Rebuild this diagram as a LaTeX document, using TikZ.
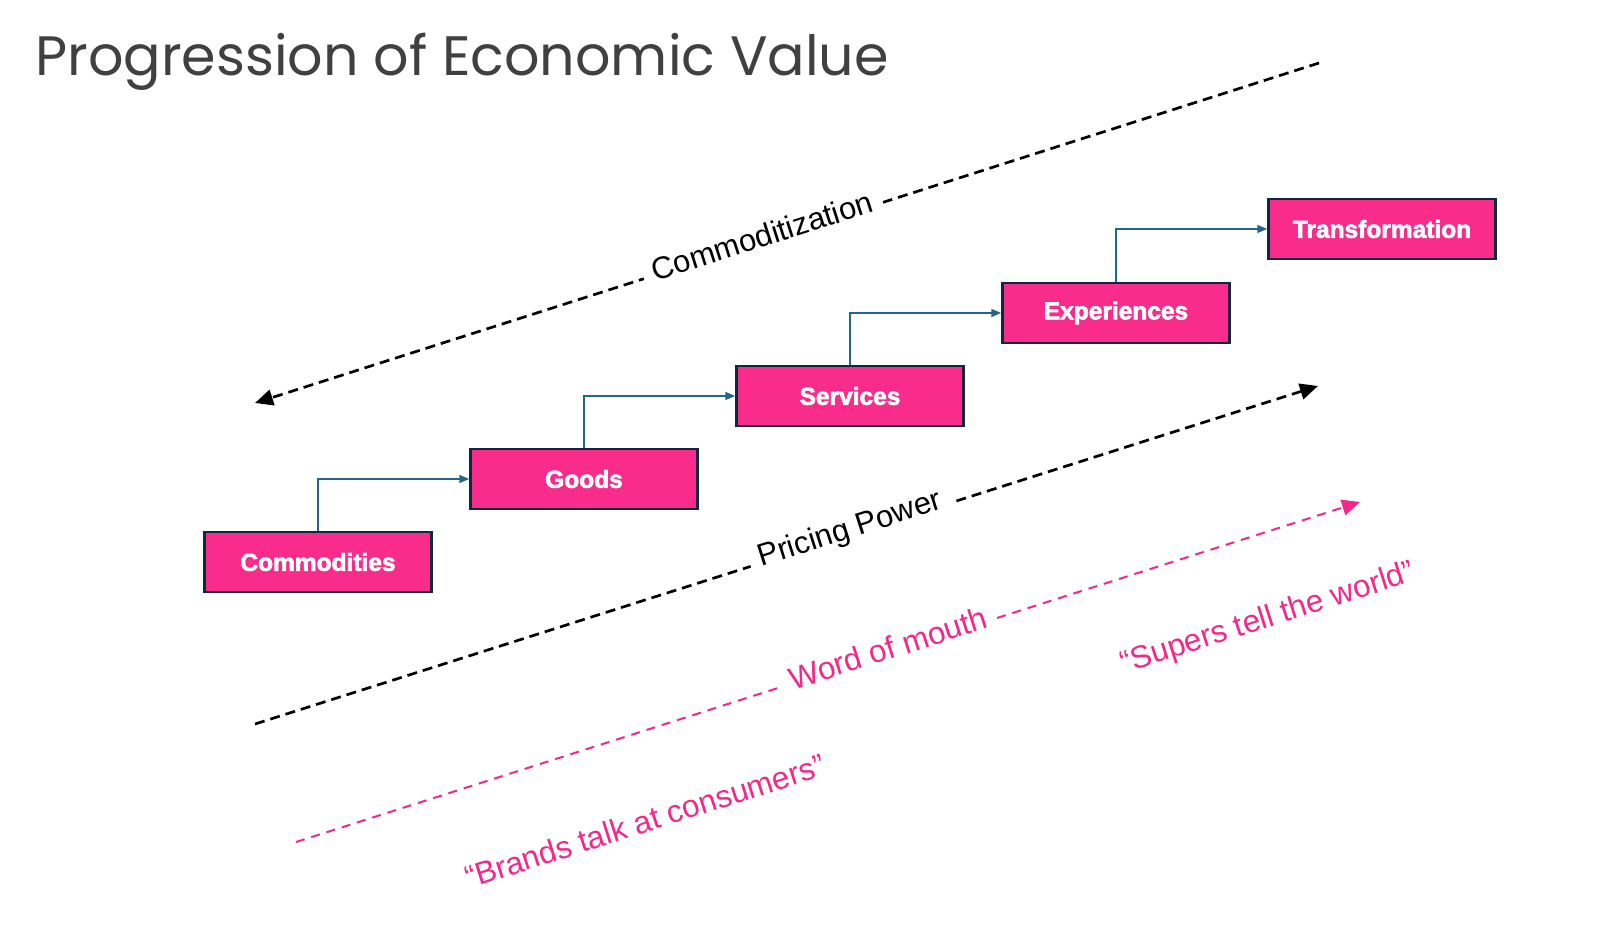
\documentclass[tikz,border=0pt]{standalone}
\usepackage{fontspec}
\usetikzlibrary{arrows.meta}
\setmainfont{Liberation Sans}
\newfontfamily\titlefont{Poppins}
\newfontfamily\boxfont[FakeBold=2.6]{Liberation Sans Bold}
\definecolor{boxpink}{HTML}{F92C8B}
\definecolor{boxnavy}{HTML}{0E2841}
\definecolor{conn}{HTML}{22668A}
\definecolor{pinktxt}{HTML}{F2288A}
\definecolor{titlegray}{HTML}{404040}
\tikzset{
  stepbox/.style={draw=boxnavy, line width=2.5pt, fill=boxpink, minimum width=227pt, minimum height=60pt,
    inner sep=0pt, text=white, font=\boxfont\fontsize{24.5}{28}\selectfont},
  conn/.style={draw=conn, line width=1.6pt, -{Triangle[length=10pt,width=8pt]}},
  blackdash/.style={draw=black, line width=2.7pt, dash pattern=on 10pt off 6pt, -{Triangle[length=18pt,width=16pt]}},
  pinkdash/.style={draw=pinktxt, line width=2pt, dash pattern=on 9pt off 7pt, -{Triangle[length=18pt,width=16pt]}},
  blacklabel/.style={fill=white, rotate=17.7, inner xsep=10pt, inner ysep=2pt, text=black, font=\fontsize{31}{35}\selectfont},
  pinklabel/.style={rotate=17.7, inner sep=0pt, text=pinktxt, font=\fontsize{31.5}{35}\selectfont},
}
\begin{document}
\begin{tikzpicture}[x=1pt,y=-1pt]
\useasboundingbox (0,0) rectangle (1600,928);
\node[anchor=base west, text=titlegray, font=\titlefont\fontsize{55.5}{60}\selectfont, inner sep=0pt] (title) at (35,76) {Progression of Economic Value};

\node[stepbox] (com) at (318,562) {Commodities};
\node[stepbox] (goods) at (584,479) {Goods};
\node[stepbox] (serv) at (850,396) {Services};
\node[stepbox] (exp) at (1116,313) {Experiences};
\node[stepbox] (trans) at (1382,229) {Transformation};

\draw[conn] (com.north) |- (goods.west);
\draw[conn] (goods.north) |- (serv.west);
\draw[conn] (serv.north) |- (exp.west);
\draw[conn] (exp.north) |- (trans.west);

\coordinate (c1) at (1319,63);
\coordinate (c2) at (255,403);
\draw[blackdash] (c1) -- (c2);
\node[blacklabel] (comlab) at (762,236) {Commoditization};

\coordinate (p1) at (255,724);
\coordinate (p2) at (1318,386);
\draw[blackdash] (p1) -- (p2);
\node[blacklabel] (prilab) at (850,530) {Pricing Power};

\coordinate (w1) at (296,842);
\coordinate (w2) at (1360,502);
\draw[pinkdash] (w1) -- (w2);
\node[pinklabel, fill=white, inner xsep=9pt] (wom) at (888,648) {Word of mouth};

\node[pinklabel] (brands) at (645,821) {“Brands talk at consumers”};
\node[pinklabel] (supers) at (1268,619) {“Supers tell the world”};
\end{tikzpicture}
\end{document}
